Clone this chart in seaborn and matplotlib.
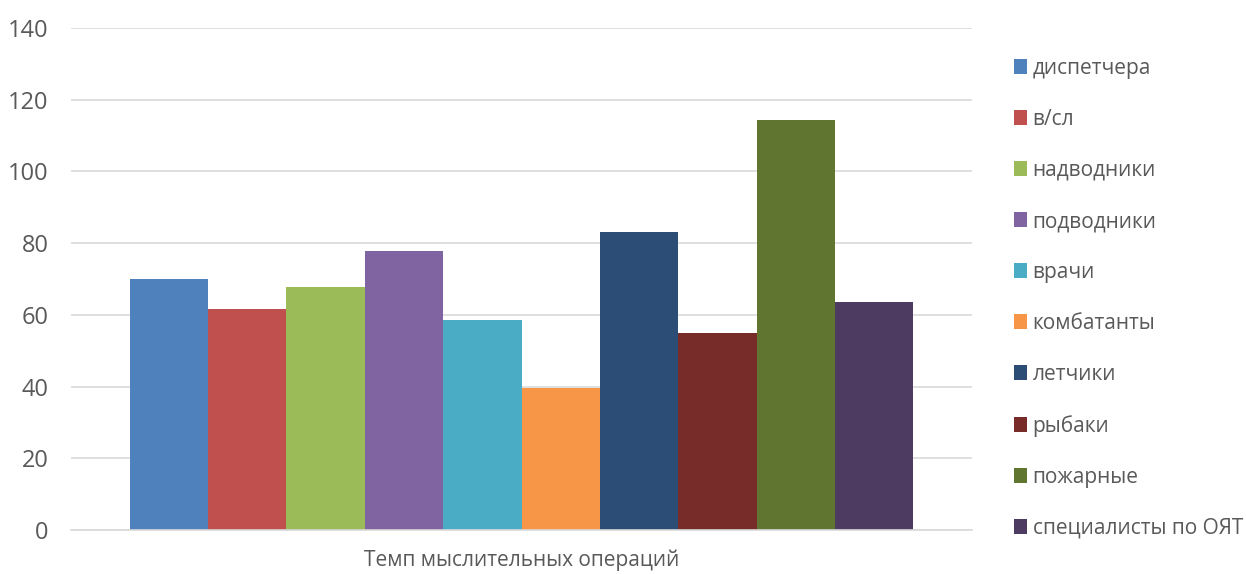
import matplotlib
matplotlib.use("Agg")
import matplotlib.pyplot as plt
import seaborn as sns
import pandas as pd
from matplotlib.patches import Patch

groups = ["диспетчера", "в/сл", "надводники", "подводники", "врачи",
          "комбатанты", "летчики", "рыбаки", "пожарные", "специалисты по ОЯТ"]
values = [70, 61.7, 67.8, 77.8, 58.6, 39.5, 83.2, 54.9, 114.4, 63.7]
category = "Темп мыслительных операций"
colors = ["#4F81BD", "#C0504D", "#9BBB59", "#8064A2", "#4BACC6",
          "#F79646", "#2C4D75", "#772C2A", "#5F7530", "#4D3B62"]
yticks = [0, 20, 40, 60, 80, 100, 120, 140]

sns.set_theme(style="white")
plt.rcParams['font.family'] = ['Open Sans', 'DejaVu Sans']

df = pd.DataFrame({"cat": [category] * len(groups), "group": groups, "value": values})

fig = plt.figure(figsize=(12.46, 5.74), dpi=100)
ax = fig.add_axes([71 / 1246, 1 - 530 / 574, 901 / 1246, 502 / 574])

sns.barplot(data=df, x="cat", y="value", hue="group", hue_order=groups,
            palette=colors, saturation=1, width=0.87, ax=ax, legend=False,
            edgecolor="none", linewidth=0)

ax.set_xlim(-0.5, 0.5)
ax.set_ylim(0, 140)
ax.set_yticks(yticks)
ax.set_yticklabels([str(t) for t in yticks])
ax.yaxis.grid(True, color="#D9D9D9", linewidth=1.2)
ax.set_axisbelow(True)
for s in ["top", "right", "left"]:
    ax.spines[s].set_visible(False)
ax.spines["bottom"].set_color("#D9D9D9")
ax.spines["bottom"].set_linewidth(1.2)
ax.tick_params(axis="y", length=0, pad=16, labelsize=17, labelcolor="#595959")
ax.tick_params(axis="x", length=0, pad=14, labelsize=15, labelcolor="#595959")
ax.set_xlabel("")
ax.set_ylabel("")

handles = [Patch(facecolor=c, edgecolor="none") for c in colors]
fig.legend(handles, groups, loc="upper left", bbox_to_anchor=(1014 / 1246, 1 - 58 / 574),
           frameon=False, fontsize=15, labelcolor="#595959",
           handlelength=0.6, handleheight=0.7, handletextpad=0.3,
           labelspacing=1.44, borderaxespad=0, borderpad=0)

fig.savefig("out.png", dpi=100)
